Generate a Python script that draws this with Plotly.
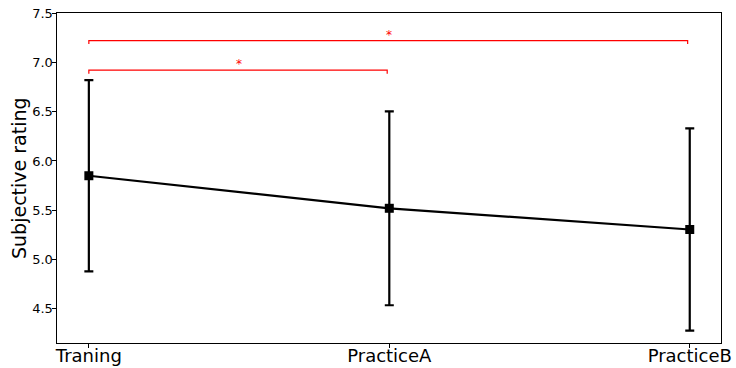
import plotly.graph_objects as go

categories = ["Traning", "PracticeA", "PracticeB"]
means = [5.85, 5.52, 5.305]
errors = [0.97, 0.983, 1.026]

# significance brackets: (start index, end index, height)
bracket_starts = [0, 0]
bracket_ends = [1, 2]
bracket_heights = [6.92, 7.22]
bracket_labels = ["*", "*"]

y_ticks = [4.5, 5.0, 5.5, 6.0, 6.5, 7.0, 7.5]
y_title = "Subjective rating"

xs = list(range(len(categories)))

fig = go.Figure()
fig.add_trace(go.Scatter(
    x=xs, y=means, mode="lines+markers",
    line=dict(color="black", width=2.2),
    marker=dict(symbol="square", size=9, color="black"),
    error_y=dict(type="data", array=errors, visible=True, color="black",
                 thickness=2.2, width=4.5),
    showlegend=False,
))

tick_drop = 0.035
for s, e, h, lab in zip(bracket_starts, bracket_ends, bracket_heights, bracket_labels):
    e_adj = e - 0.007
    fig.add_trace(go.Scatter(
        x=[s, s, e_adj, e_adj], y=[h - tick_drop, h, h, h - tick_drop],
        mode="lines", line=dict(color="red", width=1.2),
        showlegend=False, hoverinfo="skip",
    ))
    fig.add_annotation(x=(s + e) / 2, y=h, text=lab, showarrow=False,
                       yanchor="bottom", yshift=-3,
                       font=dict(color="red", size=12, family="DejaVu Sans"))

fig.add_annotation(xref="paper", yref="paper", x=0, y=0.5, text=y_title,
                   textangle=-90, showarrow=False, xanchor="center",
                   yanchor="middle", xshift=-38,
                   font=dict(size=19, family="DejaVu Sans", color="black"))

fig.update_layout(
    width=736, height=368,
    margin=dict(l=57, r=15, t=13, b=25),
    plot_bgcolor="white", paper_bgcolor="white",
    font=dict(family="DejaVu Sans", color="black"),
)
fig.update_xaxes(
    range=[-0.106, 2.104], tickvals=xs, ticktext=categories,
    tickfont=dict(size=18), ticks="outside", ticklen=4, tickcolor="black",
    ticklabelstandoff=-8,
    showline=True, linecolor="black", linewidth=1, mirror=True,
    showgrid=False, zeroline=False, automargin=False,
)
fig.update_yaxes(
    range=[4.154, 7.5], tickvals=y_ticks, ticktext=[f"{v:.1f}" for v in y_ticks],
    tickfont=dict(size=13), ticks="outside", ticklen=4.5, tickcolor="black",
    ticklabelstandoff=-4,
    showline=True, linecolor="black", linewidth=1, mirror=True,
    showgrid=False, zeroline=False, automargin=False,
)

fig.write_html("out.html", config={"displayModeBar": False},
               post_script="document.body.style.margin='0px';document.body.style.overflow='hidden';")
